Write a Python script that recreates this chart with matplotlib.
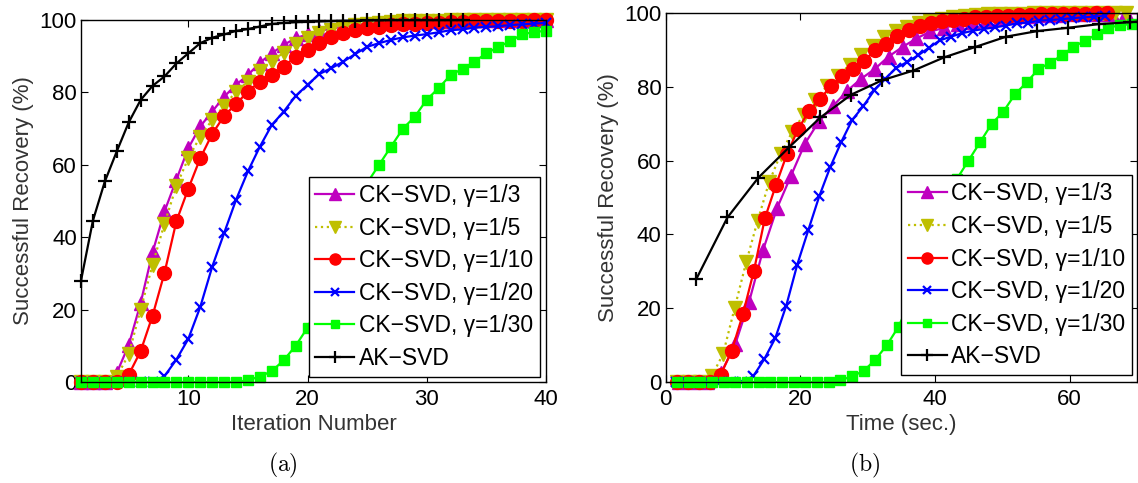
import numpy as np
import matplotlib.pyplot as plt

plt.rcParams['font.family'] = ['Liberation Sans', 'DejaVu Sans']
plt.rcParams['mathtext.fontset'] = 'cm'

# success rate (%) per iteration, one list per method
ck_3 = [0, 0, 0, 2.5, 10.2, 21.8, 35.8, 47.1, 55.9, 64.6, 70.6, 74.7, 78.8, 82.1, 84.8, 88.2,
        90.8, 93.1, 95.0, 96.0, 97.0, 97.6, 98.2, 98.6, 99.0, 99.2, 99.4, 99.5, 99.6, 99.7,
        99.8, 99.8, 99.9, 99.9, 99.9, 100, 100, 100, 100, 100]
ck_5 = [0, 0, 0, 1.5, 7.6, 20.0, 32.4, 43.7, 54.2, 61.8, 67.8, 72.4, 76.3, 80.2, 83.0, 86.0,
        88.5, 91.0, 93.5, 95.0, 96.3, 97.2, 97.9, 98.5, 98.9, 99.2, 99.4, 99.6, 99.7, 99.8,
        99.8, 99.9, 99.9, 100, 100, 100, 100, 100, 100, 100]
ck_10 = [0, 0, 0, 0, 2.0, 8.5, 18.3, 30.1, 44.4, 53.4, 61.8, 68.5, 73.5, 76.8, 80.2, 83.0,
         84.8, 87.1, 89.9, 91.7, 93.7, 95.4, 96.5, 97.3, 97.8, 98.2, 98.5, 98.8, 99.0, 99.2,
         99.3, 99.4, 99.5, 99.6, 99.7, 99.7, 99.8, 99.8, 99.9, 99.9]
ck_20 = [0, 0, 0, 0, 0, 0, 0, 1.6, 6.2, 11.9, 20.7, 31.8, 41.1, 50.3, 58.2, 65.0, 71.0, 74.7,
         79.0, 82.1, 85.1, 86.7, 88.5, 90.6, 92.6, 93.6, 94.5, 95.2, 95.7, 96.1, 96.6, 97.2,
         97.4, 97.9, 98.1, 98.3, 98.6, 98.8, 99.0, 99.2]
ck_30 = [0, 0, 0, 0, 0, 0, 0, 0, 0, 0, 0, 0, 0, 0, 0.5, 1.5, 3.0, 6.0, 10.0, 15.0, 22.0,
         30.0, 39.0, 47.0, 55.0, 60.0, 65.0, 70.0, 73.3, 78.0, 81.2, 84.8, 86.5, 88.5, 90.8,
         92.5, 94.2, 96.0, 96.7, 97.0]
ak = [28.0, 44.6, 55.4, 63.7, 71.7, 77.9, 81.8, 84.4, 88.0, 90.8, 93.6, 95.1, 96.0, 97.0,
      97.5, 98.2, 98.9, 99.2, 99.4, 99.5, 99.6, 99.7, 99.8, 99.8, 99.9, 99.9, 100, 100, 100,
      100, 100, 100, 100]

# average run time of one iteration (sec.)
sec_per_iter = [2.07, 1.71, 1.64, 1.63, 1.73, 4.6]

names = ['CK\u2212SVD, \u03b3=1/3', 'CK\u2212SVD, \u03b3=1/5', 'CK\u2212SVD, \u03b3=1/10',
         'CK\u2212SVD, \u03b3=1/20', 'CK\u2212SVD, \u03b3=1/30', 'AK\u2212SVD']
series = [ck_3, ck_5, ck_10, ck_20, ck_30, ak]

styles = [
    dict(color='#bf00bf', marker='^', ls='-', ms=10),
    dict(color='#bfbf00', marker='v', ls=':', ms=10),
    dict(color='#ff0000', marker='o', ls='-', ms=10),
    dict(color='#0000ff', marker='x', ls='-', ms=7, mew=1.6),
    dict(color='#00ff00', marker='s', ls='-', ms=7.5),
    dict(color='#000000', marker='+', ls='-', ms=10, mew=1.6),
]

fig = plt.figure(figsize=(11.38, 4.83), dpi=100)
ax1 = fig.add_axes([81 / 1138, 101 / 483, 465 / 1138, 362 / 483])
ax2 = fig.add_axes([665.5 / 1138, 101 / 483, 471.5 / 1138, 369 / 483])

handles = []
for vals, st in zip(series, styles):
    it = np.arange(1, len(vals) + 1)
    h, = ax1.plot(it, vals, lw=1.6, clip_on=False, **st)
    handles.append(h)

for vals, st, sec in zip(series, styles, sec_per_iter):
    vals = np.array(vals)
    t = np.arange(1, len(vals) + 1) * sec
    inside = t <= 70
    ax2.plot(t, vals, lw=1.6, color=st['color'], ls=st['ls'])
    mk = {k: v for k, v in st.items() if k != 'ls'}
    ax2.plot(t[inside], vals[inside], ls='none', clip_on=False, **mk)

for ax in (ax1, ax2):
    ax.set_ylim(0, 100)
    ax.set_yticks([0, 20, 40, 60, 80, 100])
    ax.tick_params(direction='in', top=True, right=True, length=5, width=0.8,
                   labelsize=16)
    ax.tick_params(axis='x', pad=5)
    ax.tick_params(axis='y', pad=3)
    for sp in ax.spines.values():
        sp.set_linewidth(1.0)
    ax.set_ylabel('Successful Recovery (%)', fontsize=16, color='#333333', labelpad=4)

ax1.set_xlim(1, 40)
ax1.set_xticks([10, 20, 30, 40])
ax1.set_xlabel('Iteration Number', fontsize=16, color='#333333', labelpad=3)

ax2.set_xlim(0, 70)
ax2.set_xticks([0, 20, 40, 60])
ax2.set_xlabel('Time (sec.)', fontsize=16, color='#333333', labelpad=3)

leg_kw = dict(loc='lower right', borderaxespad=0, fontsize=16.5, fancybox=False,
              framealpha=1, edgecolor='black', handlelength=1.7, handletextpad=0.2,
              labelspacing=0.42, borderpad=0.3, markerscale=0.8)
l1 = ax1.legend(handles, names, bbox_to_anchor=(0.987, 0.014), **leg_kw)
l2 = ax2.legend(handles, names, bbox_to_anchor=(0.99, 0.018), **leg_kw)
for leg in (l1, l2):
    leg.get_frame().set_linewidth(1.0)

fig.text(283 / 1138, 1 - 465 / 483, r'$\mathrm{(a)}$', fontsize=17, ha='center', va='center')
fig.text(865 / 1138, 1 - 465 / 483, r'$\mathrm{(b)}$', fontsize=17, ha='center', va='center')

fig.savefig('out.png', dpi=100)
